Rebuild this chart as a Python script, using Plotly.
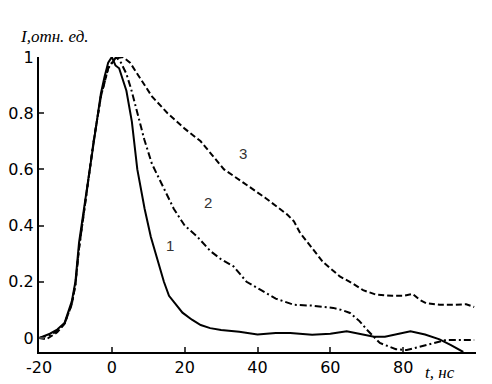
import plotly.graph_objects as go

# curve 1 (solid)
t1 = [-20, -17, -15, -13, -11, -10, -9, -7, -5, -3, -2, -1, 0, 1, 2, 4, 5.5, 7, 9, 10.7,
      12.5, 14.3, 15.7, 17.5, 19.4, 22, 24.4, 27, 30, 35, 40, 45, 49, 55, 60, 64.5, 68,
      72, 75, 78, 82, 86, 90, 93, 96.5]
i1 = [0.0, 0.015, 0.03, 0.053, 0.13, 0.2, 0.34, 0.52, 0.7, 0.87, 0.93, 0.98, 1.0, 0.97,
      0.96, 0.88, 0.77, 0.6, 0.46, 0.36, 0.28, 0.2, 0.15, 0.12, 0.09, 0.065, 0.046, 0.035,
      0.028, 0.022, 0.012, 0.018, 0.018, 0.011, 0.015, 0.024, 0.015, 0.004, 0.004, 0.012,
      0.024, 0.012, -0.005, -0.025, -0.05]

# curve 2 (dash-dot)
t2 = [-20, -17, -15, -13, -11, -10, -9, -7, -5, -3, -1, 0, 1.2, 2.5, 4, 5.3, 7, 8.9, 11,
      14.4, 17, 20, 23.5, 27, 30, 33.4, 37, 41, 45, 50, 55, 60.8, 63, 65.4, 68, 70, 72,
      73.6, 76, 78, 81, 84.5, 88, 91.8, 95, 99.5]
i2 = [0.0, 0.01, 0.025, 0.05, 0.12, 0.19, 0.32, 0.51, 0.7, 0.86, 0.96, 0.98, 1.0, 0.98,
      0.94, 0.886, 0.8, 0.707, 0.62, 0.529, 0.46, 0.4, 0.36, 0.31, 0.28, 0.255, 0.2, 0.17,
      0.14, 0.118, 0.115, 0.107, 0.1, 0.089, 0.06, 0.03, 0.005, -0.018, -0.03, -0.04,
      -0.043, -0.031, -0.02, -0.007, -0.007, -0.007]

# curve 3 (dashed)
t3 = [-20, -18, -15, -13, -11, -10, -9, -7, -5, -3, -1, 1, 3, 5, 8, 11, 15.3, 20, 24.4,
      30.8, 36.2, 42, 48.1, 50, 51.7, 55, 58, 62.6, 66, 69, 72.6, 77, 80, 82.6, 84.5,
      86.3, 90, 94, 97.3, 99.5]
i3 = [0.0, -0.005, 0.02, 0.05, 0.12, 0.19, 0.32, 0.51, 0.7, 0.86, 0.96, 0.995, 1.0, 0.98,
      0.92, 0.86, 0.80, 0.745, 0.7, 0.6, 0.552, 0.5, 0.44, 0.415, 0.374, 0.32, 0.27,
      0.219, 0.195, 0.17, 0.154, 0.15, 0.15, 0.157, 0.136, 0.124, 0.118, 0.118, 0.12, 0.11]

x_ticks = [-20, 0, 20, 40, 60, 80, 100]
x_labels = ["-20", "0", "20", "40", "60", "80", ""]
y_ticks = [0, 0.2, 0.4, 0.6, 0.8, 1]
y_labels = ["0", "0.2", "0.4", "0.6", "0.8", "1"]

fig = go.Figure()
fig.add_trace(go.Scatter(x=t1, y=i1, mode="lines",
                         line=dict(color="black", width=2)))
fig.add_trace(go.Scatter(x=t2, y=i2, mode="lines",
                         line=dict(color="black", width=2, dash="7px,3px,2px,3px")))
fig.add_trace(go.Scatter(x=t3, y=i3, mode="lines",
                         line=dict(color="black", width=2, dash="6px,3px")))

serif = "Liberation Serif"
# curve numbers
for txt, x, y in [("1", 15.9, 0.33), ("2", 26.3, 0.483), ("3", 36.0, 0.655)]:
    fig.add_annotation(x=x, y=y, text=txt, showarrow=False,
                       font=dict(family="Liberation Sans", size=15, color="#333"))

# axis titles
fig.add_annotation(x=-0.048, y=1.071, xref="paper", yref="paper", xanchor="left",
                   yanchor="middle", text="<i>I,отн. ед.</i>", showarrow=False,
                   font=dict(family=serif, size=17, color="black"))
fig.add_annotation(x=0.918, y=-0.068, xref="paper", yref="paper", xanchor="center",
                   yanchor="middle", text="<i>t, нс</i>", showarrow=False,
                   font=dict(family=serif, size=17, color="black"))

# page body adds an 8px offset, so the figure is 8px smaller than the window
fig.update_layout(
    template="none",
    width=484, height=376,
    margin=dict(l=31, r=16, t=49, b=32),
    plot_bgcolor="white", paper_bgcolor="white",
    showlegend=False,
    font=dict(family="DejaVu Sans", size=16, color="black"),
)

fig.update_xaxes(range=[-20, 100], tickvals=x_ticks, ticktext=x_labels,
                 ticks="inside", ticklen=5, tickwidth=2, showline=True,
                 linecolor="black", linewidth=2, showgrid=False, zeroline=False,
                 automargin=False)
fig.update_yaxes(range=[-0.05, 1.0], tickvals=y_ticks, ticktext=y_labels,
                 ticks="inside", ticklen=5, tickwidth=2, showline=True,
                 linecolor="black", linewidth=2, showgrid=False, zeroline=False,
                 automargin=False)

fig.write_html("out.html")
